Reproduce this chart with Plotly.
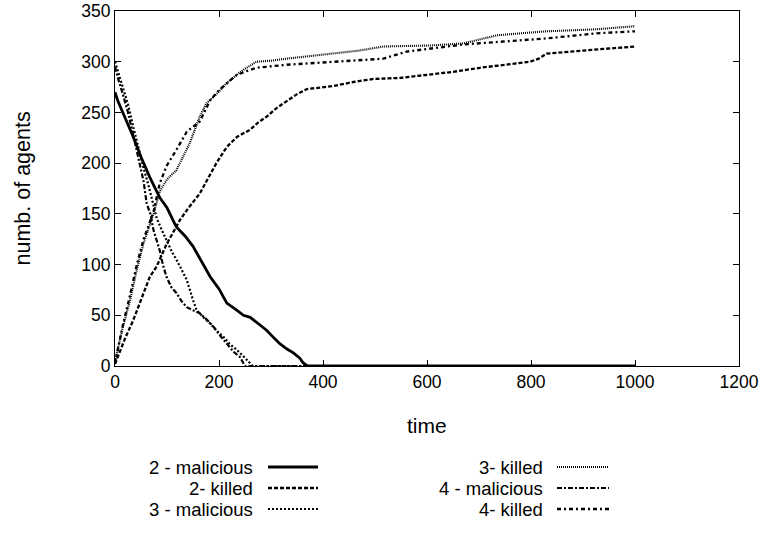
import plotly.graph_objects as go

# ---- data ----
t_2mal = [0, 5, 15, 25, 35, 50, 67, 86, 100, 118, 135, 150, 163, 183, 200, 215, 234, 247, 260, 275, 292, 305, 317, 330, 343, 355, 362, 370, 1000]
v_2mal = [270, 262, 250, 238, 226, 206, 186, 166, 156, 137, 128, 118, 106, 88, 76, 62, 55, 50, 48, 42, 35, 28, 22, 17, 13, 8, 3, 0, 0]

t_2kil = [0, 10, 20, 35, 50, 67, 80, 99, 110, 125, 140, 150, 163, 180, 195, 215, 235, 260, 275, 292, 310, 330, 350, 369, 400, 420, 458, 497, 548, 606, 650, 702, 750, 798, 815, 830, 900, 1000]
v_2kil = [2, 15, 28, 45, 66, 88, 98, 120, 130, 144, 155, 162, 170, 186, 200, 216, 226, 233, 240, 246, 254, 261, 268, 273, 275, 276, 280, 283, 284, 287, 290, 294, 297, 300, 303, 308, 311, 315]

t_3mal = [0, 5, 15, 25, 35, 45, 55, 65, 74, 80, 90, 99, 110, 118, 128, 138, 150, 157, 170, 183, 195, 208, 220, 234, 248, 260, 265, 1000]
v_3mal = [300, 292, 275, 258, 236, 215, 195, 177, 160, 146, 134, 124, 112, 105, 95, 85, 65, 55, 48, 42, 35, 29, 22, 16, 9, 3, 0, 0]

t_3kil = [0, 15, 29, 42, 55, 74, 86, 100, 118, 132, 144, 163, 176, 195, 215, 234, 247, 272, 300, 330, 380, 420, 470, 516, 606, 670, 700, 734, 780, 830, 880, 926, 1000]
v_3kil = [5, 38, 65, 95, 121, 150, 172, 184, 193, 208, 220, 246, 259, 268, 279, 287, 292, 300, 301, 303, 306, 308, 311, 315, 316, 318, 322, 326, 328, 330, 331, 332, 335]

t_4mal = [0, 5, 15, 25, 35, 45, 55, 61, 68, 74, 80, 86, 92, 99, 108, 118, 128, 138, 150, 163, 176, 189, 202, 215, 228, 240, 250, 1000]
v_4mal = [295, 285, 268, 250, 228, 205, 182, 160, 150, 134, 124, 114, 100, 88, 78, 72, 64, 58, 55, 52, 46, 39, 30, 22, 14, 9, 0, 0]

t_4kil = [0, 15, 29, 42, 55, 74, 86, 100, 118, 138, 163, 183, 200, 234, 260, 272, 330, 420, 516, 561, 620, 670, 750, 830, 926, 1000]
v_4kil = [3, 40, 70, 100, 125, 152, 180, 198, 213, 231, 241, 262, 272, 287, 292, 294, 297, 300, 303, 310, 314, 317, 320, 323, 328, 330]

x_ticks = [0, 200, 400, 600, 800, 1000, 1200]
y_ticks = [0, 50, 100, 150, 200, 250, 300, 350]

series = [
    ("2 - malicious", t_2mal, v_2mal, "solid", 2.8),
    ("2- killed", t_2kil, v_2kil, "4px,2px", 2.3),
    ("3 - malicious", t_3mal, v_3mal, "2px,2px", 2.2),
    ("3- killed", t_3kil, v_3kil, "1px,1px", 2.1),
    ("4 - malicious", t_4mal, v_4mal, "5px,2px,2px,2px", 2.2),
    ("4- killed", t_4kil, v_4kil, "4px,3px,2px,3px", 2.3),
]

FONT = "Liberation Sans, Arial, sans-serif"

fig = go.Figure()
for name, t, v, dash, w in series:
    fig.add_trace(go.Scatter(x=t, y=v, mode="lines", name=name, showlegend=False,
                             line=dict(color="black", width=w, dash=dash)))

axis_common = dict(showline=True, linecolor="black", linewidth=1, mirror="ticks",
                   ticks="inside", ticklen=6, tickcolor="black", showgrid=False,
                   zeroline=False, automargin=False,
                   tickfont=dict(family=FONT, size=17.5, color="black"))
fig.update_xaxes(range=[0, 1200], tickvals=x_ticks, ticktext=[str(v) for v in x_ticks], **axis_common)
fig.update_yaxes(range=[0, 350], tickvals=y_ticks, ticktext=[str(v) for v in y_ticks], **axis_common)

annotations = [
    dict(text="time", xref="paper", yref="paper", x=0.5, y=0, yshift=-59,
         xanchor="center", yanchor="middle", showarrow=False,
         font=dict(family=FONT, size=21, color="black")),
    dict(text="numb. of agents", xref="paper", yref="paper", x=0, y=0.5, xshift=-93,
         xanchor="center", yanchor="middle", textangle=-90, showarrow=False,
         font=dict(family=FONT, size=21.5, color="black")),
]
shapes = []
# legend: two columns, three rows, text right-aligned, sample on the right
cols = [(255 - 115, 268 - 115, 318 - 115), (545 - 115, 557 - 115, 609 - 115)]
rows = [467 - 366, 488 - 366, 509 - 366]
for i, (name, t, v, dash, w) in enumerate(series):
    c = cols[i // 3]
    r = rows[i % 3]
    annotations.append(dict(text=name, xref="paper", yref="paper", x=0, y=0,
                            xshift=c[0], yshift=-r, xanchor="right", yanchor="middle",
                            showarrow=False, font=dict(family=FONT, size=18.5, color="black")))
    shapes.append(dict(type="line", xref="paper", yref="paper", xsizemode="pixel",
                       ysizemode="pixel", xanchor=0, yanchor=0, x0=c[1], x1=c[2],
                       y0=-r, y1=-r, line=dict(color="black", width=w, dash=dash)))

fig.update_layout(width=765, height=537, margin=dict(l=115, r=26, t=11, b=171),
                  plot_bgcolor="white", paper_bgcolor="white",
                  annotations=annotations, shapes=shapes, showlegend=False)

fig.write_html("out.html", config={"displayModeBar": False},
               post_script="document.body.style.margin='0';")
